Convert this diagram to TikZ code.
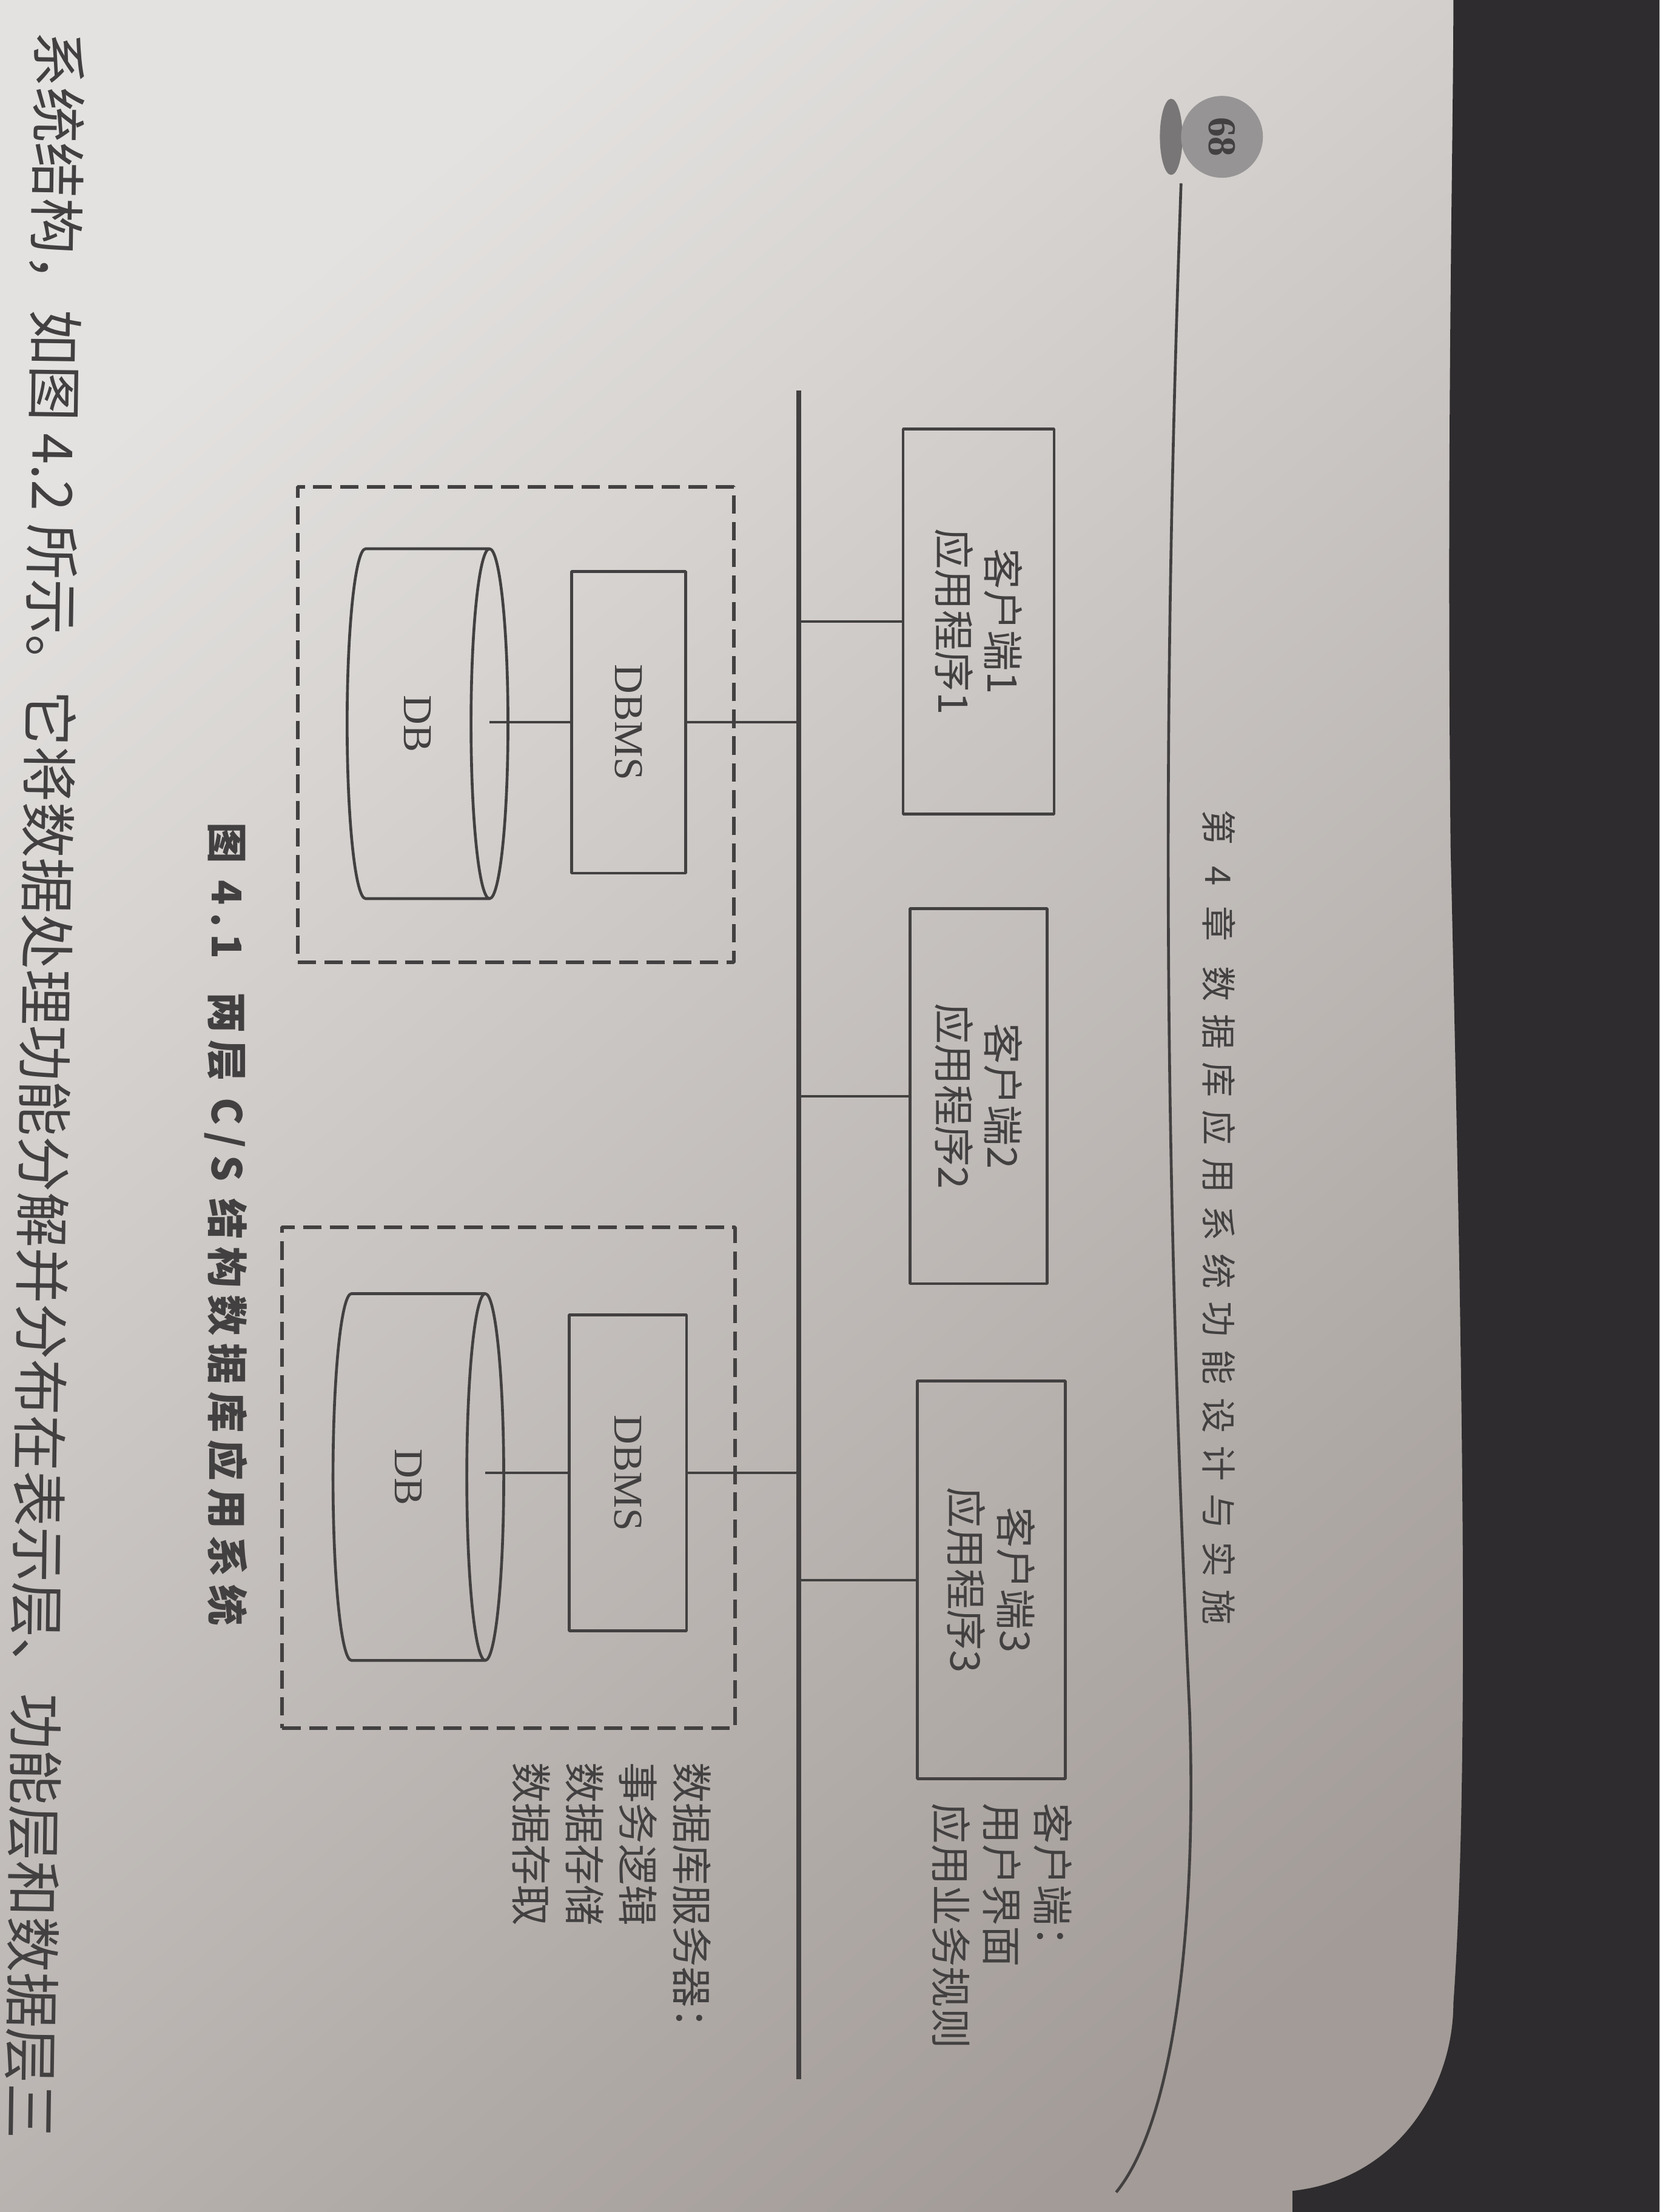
\documentclass[tikz,border=0pt]{standalone}
\usepackage{fontspec}
\setmainfont{Liberation Serif}
\newfontfamily\cjk{Noto Sans CJK SC}
\newfontfamily\cjkcap[LetterSpace=18]{Noto Sans CJK SC}
\newfontfamily\cjkhead[LetterSpace=36]{Noto Sans CJK SC}
\usepackage{graphicx}
\usepackage{tikz}
\usetikzlibrary{%
shapes.geometric,
backgrounds}

\definecolor{pagelight}{RGB}{228,226,224}
\definecolor{pagedark}{RGB}{162,155,151}
\definecolor{deskcol}{RGB}{46,44,46}
\definecolor{inkcol}{RGB}{66,64,64}
\definecolor{badgecol}{RGB}{150,148,148}

\tikzset{
  inkline/.style={draw=inkcol,line width=2pt},
  wire/.style={draw=inkcol,line width=1.6pt},
  busline/.style={draw=inkcol,line width=3.2pt},
  clientbox/.style={inkline,rotate=-90,align=center,inner sep=0pt,
    text=inkcol,font=\cjk\fontsize{29}{35}\selectfont},
  dbmsbox/.style={inkline,rotate=-90,inner sep=0pt,
    text=inkcol,font=\fontsize{29}{34}\selectfont},
  dbdisk/.style={inkline,cylinder,aspect=0.65,inner sep=0pt,
    text=inkcol,font=\fontsize{29}{34}\selectfont},
  serverzone/.style={draw=inkcol,line width=2.6pt,dash pattern=on 13pt off 6pt,inner sep=0pt},
  notetext/.style={rotate=-90,align=left,inner sep=0pt,text=inkcol,
    font=\cjk\fontsize{29}{36}\selectfont},
}

\begin{document}
\begin{tikzpicture}[x=1pt,y=-1pt,>=latex,line join=bevel]
\useasboundingbox (0,0) rectangle (1176,1568);
%% page and desk
\shade[top color=pagelight,bottom color=pagedark,shading angle=40] (0,0) rectangle (1176,1568);
\fill[deskcol] (1030,0) -- (1176,0) -- (1176,1568) -- (916,1568) -- (916,1553)
  .. controls (990,1545) and (1030,1480) .. (1030,1420)
  .. controls (1042,1250) and (1036,950) .. (1028,600)
  .. controls (1025,300) and (1030,100) .. (1030,0) -- cycle;
%% running head
\draw[inkline] (837,130) .. controls (824,500) and (824,800) .. (843,1212)
  .. controls (848,1350) and (835,1500) .. (791,1554);
\fill[badgecol!80!black] (830,97) ellipse (8 and 27);
\node (pagenum) [circle,fill=badgecol,rotate=-90,minimum size=58pt,inner sep=0pt,
  text=inkcol,font=\bfseries\fontsize{28}{28}\selectfont] at (866,97) {68};
\node (chapterhead) [rotate=-90,anchor=west,inner sep=0pt,text=inkcol,
  font=\cjkhead\fontsize{25}{25}\selectfont] at (864,574) {第 4 章\hspace{0.7em}数据库应用系统功能设计与实施};
%% bus
\coordinate (busTop) at (566,277);
\coordinate (busEnd) at (566,1474);
\draw[busline] (busTop) -- (busEnd);
  % Node: server1
\node (server1) [serverzone,minimum width=309,minimum height=337] at (365.5,513.5) {};
  % Node: server2
\node (server2) [serverzone,minimum width=321,minimum height=355] at (360.5,1047.5) {};
  % Node: client1
\node (client1) [clientbox,minimum width=273,minimum height=107] at (693.5,440.5) {客户端1\\应用程序1};
  % Node: client2
\node (client2) [clientbox,minimum width=266,minimum height=97] at (693.5,777) {客户端2\\应用程序2};
  % Node: client3
\node (client3) [clientbox,minimum width=282,minimum height=105] at (702.5,1120) {客户端3\\应用程序3};
  % Node: dbms1
\node (dbms1) [dbmsbox,minimum width=214,minimum height=81] at (445.5,512) {DBMS};
  % Node: dbms2
\node (dbms2) [dbmsbox,minimum width=224,minimum height=83] at (445,1044) {DBMS};
  % Node: db1
\node (db1) [dbdisk,minimum width=248,minimum height=114,anchor=shape center] at (303,513) {\rotatebox{-90}{DB}};
  % Node: db2
\node (db2) [dbdisk,minimum width=260,minimum height=121,anchor=shape center] at (296.5,1047) {\rotatebox{-90}{DB}};
  % Edge: client1 -> bus
\draw[wire] (client1.south) -- (client1.south -| busTop);
  % Edge: client2 -> bus
\draw[wire] (client2.south) -- (client2.south -| busTop);
  % Edge: client3 -> bus
\draw[wire] (client3.south) -- (client3.south -| busTop);
  % Edge: dbms1 -> bus
\draw[wire] (dbms1.north) -- (dbms1.north -| busTop);
  % Edge: dbms2 -> bus
\draw[wire] (dbms2.north) -- (dbms2.north -| busTop);
  % Edge: db1 -> dbms1
\draw[wire,shorten >=-14pt] (dbms1.south) -- (dbms1.south -| db1.top);
  % Edge: db2 -> dbms2
\draw[wire,shorten >=-14pt] (dbms2.south) -- (dbms2.south -| db2.top);
%% notes
\node (clientnote) [notetext,anchor=north west] at (760,1278) {客户端：\\用户界面\\应用业务规则};
\node (servernote) [notetext,anchor=north west,font=\cjk\fontsize{29}{38}\selectfont] at (504,1249) {数据库服务器：\\事务逻辑\\数据存储\\数据存取};
%% caption and body text
\node (caption) [rotate=-90,anchor=west,inner sep=0pt,text=inkcol,
  font=\cjkcap\bfseries\fontsize{29}{29}\selectfont] at (160,583) {图 4.1\hspace{0.8em}两层 C/S 结构数据库应用系统};
\node (bodyline) [rotate=-90.8,anchor=west,inner sep=0pt,text=inkcol,
  font=\cjk\fontsize{39.5}{40}\selectfont] at (42,22) {系统结构，如图 4.2 所示。它将数据处理功能分解并分布在表示层、功能层和数据层三};
\end{tikzpicture}
\end{document}
